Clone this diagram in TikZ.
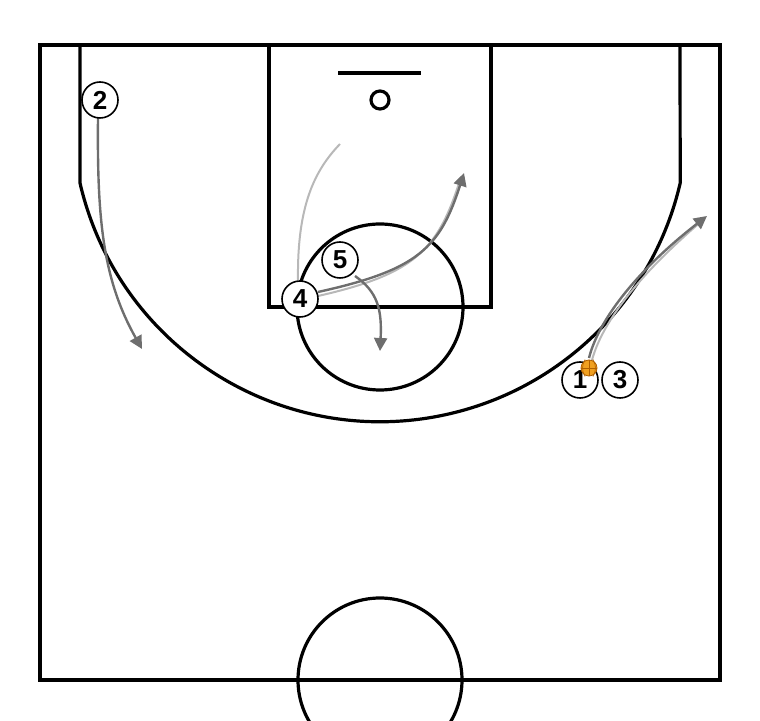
\documentclass[tikz,border=0pt]{standalone}
\usepackage{fontspec}
\setmainfont{Liberation Sans}
\usetikzlibrary{arrows.meta}
\definecolor{mvdark}{HTML}{6E6E6E}
\definecolor{mvlight}{HTML}{B8B8B8}
\definecolor{ballor}{HTML}{F0A020}
\definecolor{ballln}{HTML}{B06000}
\tikzset{
  court/.style={line width=3.2pt, black},
  player/.style={circle, draw=black, line width=1.6pt, fill=white, minimum size=36pt, inner sep=0pt, font=\fontsize{26}{26}\selectfont\bfseries},
  move/.style={line width=2.4pt, mvdark, -{Triangle[length=13pt,width=13pt]}},
  movelight/.style={line width=2pt, mvlight},
  cut/.style={line width=2pt, mvlight}
}
\begin{document}
\begin{tikzpicture}[x=1pt,y=1pt]
\useasboundingbox (0,0) rectangle (760,720);
\begin{scope}
\clip (0,0) rectangle (760,720);
% court
\draw[court] (40,40) rectangle (720,675);
\draw[court] (80,675) -- (80,537) arc[start angle=193, end angle=347, radius=308] -- (680,675);
\draw[court] (269,675) rectangle (491,413);
\draw[court] (380,413) circle[radius=83];
\draw[court] (338,647) -- (421,647);
\draw[court] (380,620) circle[radius=9];
\draw[court] (380,40) circle[radius=82];
\end{scope}
% players positions
\coordinate (p2) at (100,620);
\coordinate (p5) at (340,460);
\coordinate (p4) at (300,421);
\coordinate (p1) at (580,340);
\coordinate (p3) at (620,340);
\coordinate (e2) at (142,371);
\coordinate (e4) at (340,576);
\coordinate (e4b) at (464,547);
\coordinate (e5) at (380,369);
\coordinate (e1) at (707,504);
% cut of 4 (light)
\draw[cut] (298,440) .. controls (297,515) and (315,550) .. (e4);
% 4 curl (double line)
\draw[movelight] (318,424) .. controls (415,446) and (438,470) .. (460,540);
\draw[move] (318,428) .. controls (418,450) and (440,472) .. (e4b);
% 2 movement
\draw[move] (98,602) .. controls (97,500) and (103,440) .. (e2);
% 5 movement
\draw[move] (355,444) .. controls (378,428) and (382,410) .. (e5);
% 1 dribble (double line)
\draw[movelight] (592,360) .. controls (603,400) and (642,448) .. (703,500);
\draw[move] (589,362) .. controls (599,402) and (640,452) .. (e1);
% players
\node[player] (n2) at (p2) {2};
\node[player] (n5) at (p5) {5};
\node[player] (n4) at (p4) {4};
\node[player] (n1) at (p1) {1};
\node[player] (n3) at (p3) {3};
% ball
\node[circle, fill=ballor, draw=ballln, line width=0.8pt, minimum size=16pt, inner sep=0pt] (ball) at (589,352) {};
\draw[ballln, line width=0.6pt] (ball.north) -- (ball.south);
\draw[ballln, line width=0.6pt] (ball.west) -- (ball.east);
\draw[ballln, line width=0.6pt] ([xshift=-4pt]ball.north) to[bend right=30] ([xshift=-4pt]ball.south);
\draw[ballln, line width=0.6pt] ([xshift=4pt]ball.north) to[bend left=30] ([xshift=4pt]ball.south);
\end{tikzpicture}
\end{document}
